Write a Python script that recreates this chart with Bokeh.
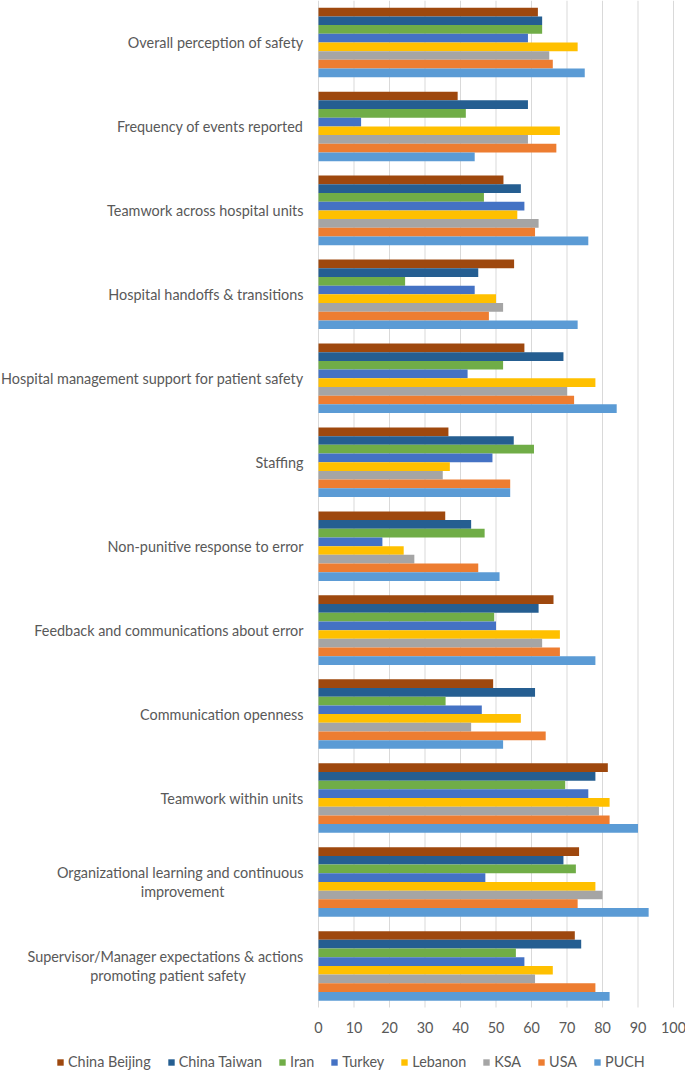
from bokeh.plotting import figure
from bokeh.models import ColumnDataSource, Range1d, Legend, LegendItem
from bokeh.core.properties import value
from bokeh.embed import file_html
from bokeh.resources import INLINE

EN = "\u2002"

categories = [
    "Overall perception of safety",
    "Frequency of events reported",
    "Teamwork across hospital units",
    "Hospital handoffs & transitions",
    "Hospital management support for patient safety",
    "Staffing",
    "Non-punitive response to error",
    "Feedback and communications about error",
    "Communication openness",
    "Teamwork within units",
    "Organizational learning and continuous\nimprovement" + EN * 11,
    "Supervisor/Manager expectations & actions\npromoting patient safety" + EN * 8,
]

series_names = ["China Beijing", "China Taiwan", "Iran", "Turkey", "Lebanon", "KSA", "USA", "PUCH"]

china_beijing = [61.8, 39.2, 52.1, 55.1, 58.0, 36.6, 35.7, 66.2, 49.2, 81.5, 73.4, 72.2]
china_taiwan = [63, 59, 57, 45, 69, 55, 43, 62, 61, 78, 69, 74]
iran = [63, 41.5, 46.6, 24.4, 52, 60.7, 46.8, 49.5, 35.8, 69.5, 72.5, 55.6]
turkey = [59, 12, 58, 44, 42, 49, 18, 50, 46, 76, 47, 58]
lebanon = [73, 68, 56, 50, 78, 37, 24, 68, 57, 82, 78, 66]
ksa = [65, 59, 62, 52, 70, 35, 27, 63, 43, 79, 80, 61]
usa = [66, 67, 61, 48, 72, 54, 45, 68, 64, 82, 73, 78]
puch = [75, 44, 76, 73, 84, 54, 51, 78, 52, 90, 93, 82]

x_ticks = [0, 10, 20, 30, 40, 50, 60, 70, 80, 90, 100]
x_tick_labels = ["0", "10", "20", "30", "40", "50", "60", "70", "80", "90", "100"]

series_values = [china_beijing, china_taiwan, iran, turkey, lebanon, ksa, usa, puch]
colors = ["#9E480E", "#255E91", "#70AD47", "#4472C4", "#FFC000", "#A5A5A5", "#ED7D31", "#5B9BD5"]

TEXT = "#595959"
FONT = "Lato"
FS = "14.4px"

W, H = 685, 1070
PX_PER_X = 3.55          # pixels per value unit
X0_PX = 318              # pixel position of value 0
PX_PER_BAND = 83.95      # pixels per category band
n_cat = len(categories)

x_start = -X0_PX / PX_PER_X
x_end = x_start + W / PX_PER_X
y_bottom = H / PX_PER_BAND

p = figure(width=W, height=H, output_backend="svg", toolbar_location=None,
           x_range=Range1d(x_start, x_end), y_range=Range1d(y_bottom, 0.0),
           x_axis_location=None, y_axis_location=None,
           min_border_left=0, min_border_right=0, min_border_top=0, min_border_bottom=0)
p.outline_line_color = None
p.grid.visible = False
p.background_fill_color = "white"

# vertical gridlines (and the value axis line at 0), spanning the category area
grid_bottom = 11.995
p.segment(x0=x_ticks, y0=[0] * len(x_ticks), x1=x_ticks, y1=[grid_bottom] * len(x_ticks),
          line_color="#D9D9D9", line_width=1)

# bars
bh = 0.1035
n = len(series_names)
items = []
for j, (name, vals, col) in enumerate(zip(series_names, series_values, colors)):
    ys = [i + 0.5 + (j - (n - 1) / 2) * bh for i in range(n_cat)]
    src = ColumnDataSource(dict(y=ys, v=vals))
    r = p.hbar(y="y", right="v", left=0, height=bh, source=src,
               fill_color=col, line_color=None)
    items.append(LegendItem(label=name, renderers=[r]))

# value tick labels
p.text(x=x_ticks, y=[1027 / PX_PER_BAND] * len(x_ticks), text=x_tick_labels,
       text_align="center", text_baseline="middle",
       text_font=value(FONT), text_font_size=value(FS), text_color=TEXT)

# category labels
p.text(x=[-15 / PX_PER_X] * n_cat, y=[i + 0.5 for i in range(n_cat)], text=categories,
       text_align="right", text_baseline="middle", text_line_height=1.1,
       text_font=value(FONT), text_font_size=value(FS), text_color=TEXT)

legend = Legend(items=items, orientation="horizontal", location=(56, 0),
                glyph_width=8, glyph_height=8, label_standoff=4, spacing=16,
                padding=0, margin=0, border_line_color=None, background_fill_alpha=0,
                label_text_font=FONT, label_text_font_size=FS,
                label_text_color=TEXT, label_height=16)
p.add_layout(legend, "center")

open("out.html", "w").write(file_html(p, INLINE))
